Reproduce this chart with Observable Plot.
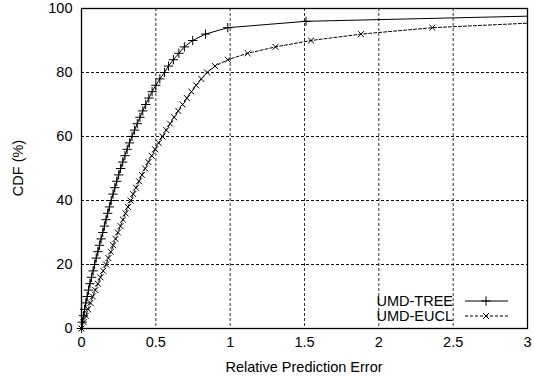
<!DOCTYPE html>
<html>
<head>
<meta charset="utf-8">
<script src="https://cdn.jsdelivr.net/npm/d3@7"></script>
<script src="https://cdn.jsdelivr.net/npm/@observablehq/plot@0.6"></script>
<style>
  html, body { margin: 0; padding: 0; background: white; }
  #chart { position: relative; width: 534px; height: 382px; }
</style>
</head>
<body>
<div id="chart"></div>
<script>
// CDF levels (%) at which points are plotted
const cdfLevels = [0,2,4,6,8,10,12,14,16,18,20,22,24,26,28,30,32,34,36,38,40,42,44,46,48,50,52,54,56,58,60,62,64,66,68,70,72,74,76,78,80,82,84,86,88,90,92,94,96,98];
// Relative prediction error for UMD-TREE at each CDF level
const treeErr = [0,0.006,0.013,0.021,0.029,0.038,0.047,0.057,0.067,0.078,0.088,0.099,0.110,0.121,0.132,0.143,0.154,0.165,0.176,0.188,0.200,0.212,0.224,0.237,0.250,0.263,0.277,0.292,0.307,0.323,0.340,0.357,0.375,0.393,0.412,0.432,0.453,0.475,0.500,0.527,0.558,0.585,0.618,0.655,0.692,0.748,0.834,0.984,1.51,3.37];
// CDF levels and errors for UMD-EUCL
const euclLevels = [0,2,4,6,8,10,12,14,16,18,20,22,24,26,28,30,32,34,36,38,40,42,44,46,48,50,52,54,56,58,60,62,64,66,68,70,72,74,76,78,80,82,84,86,88,90,92,94,96];
const euclErr = [0,0.014,0.029,0.044,0.060,0.076,0.093,0.110,0.128,0.146,0.165,0.181,0.197,0.213,0.229,0.245,0.262,0.279,0.296,0.313,0.330,0.348,0.367,0.387,0.407,0.428,0.450,0.472,0.495,0.519,0.545,0.570,0.596,0.623,0.651,0.680,0.709,0.739,0.771,0.806,0.845,0.898,0.984,1.118,1.305,1.544,1.88,2.36,3.27];

const xTicks = [0,0.5,1,1.5,2,2.5,3];
const yTicks = [0,20,40,60,80,100];
const seriesNames = ["UMD-TREE","UMD-EUCL"];
const xLabel = "Relative Prediction Error";
const yLabel = "CDF (%)";

const tree = cdfLevels.map((c,i) => ({x: treeErr[i], y: c}));
const eucl = euclLevels.map((c,i) => ({x: euclErr[i], y: c}));
const xmax = 3;

const font = "'Liberation Sans', Arial, Helvetica, sans-serif";
const fs = "14.5px";

const chart = Plot.plot({
  width: 534, height: 382,
  marginLeft: 81, marginRight: 7, marginTop: 8, marginBottom: 54,
  style: {fontFamily: font, fontSize: fs, background: "white", color: "black", overflow: "visible"},
  x: {domain: [0, 3], ticks: xTicks, tickFormat: d => String(d), tickSize: 0, tickPadding: 8, label: null},
  y: {domain: [0, 100], ticks: yTicks, tickFormat: d => String(d), tickSize: 0, tickPadding: 9, label: null},
  marks: [
    Plot.ruleX(xTicks.slice(1, -1), {stroke: "#333", strokeWidth: 1, strokeDasharray: "3,2"}),
    Plot.ruleY(yTicks.slice(1, -1), {stroke: "#111", strokeWidth: 1, strokeDasharray: "3,2"}),
    Plot.line(tree, {x: "x", y: "y", stroke: "black", strokeWidth: 1, clip: true}),
    Plot.line(eucl, {x: "x", y: "y", stroke: "black", strokeWidth: 1, strokeDasharray: "3,2", clip: true}),
    Plot.dot(tree.filter(d => d.x <= xmax), {x: "x", y: "y", symbol: "plus", r: 3.1, stroke: "black", strokeWidth: 1}),
    Plot.dot(eucl.filter(d => d.x <= xmax), {x: "x", y: "y", symbol: "times", r: 2.8, stroke: "black", strokeWidth: 1}),
    Plot.frame({stroke: "black", strokeWidth: 1.3})
  ]
});

document.getElementById("chart").appendChild(chart);

const svg = d3.select(chart);
const sx = chart.scale("x"), sy = chart.scale("y");
const x0 = sx.range[0], x1 = sx.range[1];
const yTop = sy.range[1], yBot = sy.range[0];

// axis titles
svg.append("text")
  .attr("x", (x0 + x1) / 2) .attr("y", yBot + 44)
  .attr("text-anchor", "middle")
  .style("font-family", font).style("font-size", fs)
  .text(xLabel);
svg.append("text")
  .attr("transform", `translate(23,${(yTop + yBot) / 2}) rotate(-90)`)
  .attr("text-anchor", "middle")
  .style("font-family", font).style("font-size", fs)
  .text(yLabel);

// legend (inside lower right)
const legX = x1 - 74, legY = yBot - 27;
const styles = [{dash: null, sym: d3.symbolPlus, size: Math.PI * 3.1 * 3.1},
                {dash: "3,2", sym: d3.symbolTimes, size: Math.PI * 2.8 * 2.8}];
seriesNames.forEach((name, i) => {
  const y = legY + i * 15;
  svg.append("text")
    .attr("x", legX).attr("y", y + 5)
    .attr("text-anchor", "end")
    .style("font-family", font).style("font-size", fs)
    .text(name);
  svg.append("line")
    .attr("x1", legX + 12).attr("x2", legX + 55)
    .attr("y1", y).attr("y2", y)
    .attr("stroke", "black").attr("stroke-width", 1)
    .attr("stroke-dasharray", styles[i].dash);
  svg.append("path")
    .attr("transform", `translate(${legX + 33},${y})`)
    .attr("d", d3.symbol(styles[i].sym, styles[i].size)())
    .attr("fill", "none").attr("stroke", "black").attr("stroke-width", 1);
});
</script>
</body>
</html>
